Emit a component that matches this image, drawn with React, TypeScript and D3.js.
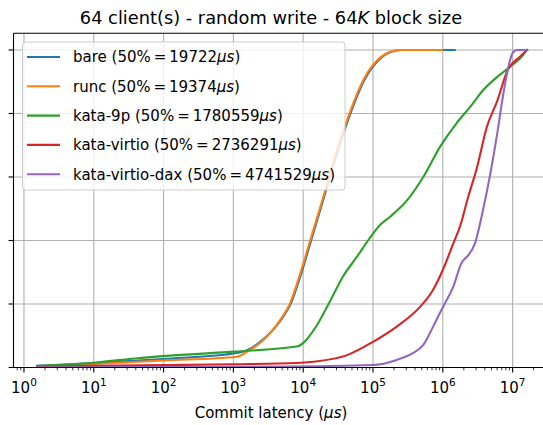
import React from "react";
import * as d3 from "d3";

// Commit-latency CDFs, latency in µs and cumulative fraction of commits.
const bareLatency = [1.55, 10, 100, 1000, 1600, 2400, 4800, 6700, 9200, 13000, 19500, 29000, 44000, 75000, 120000, 180000, 255000, 1480000];
const bareFraction = [0.005, 0.014, 0.027, 0.044, 0.055, 0.08, 0.15, 0.203, 0.29, 0.4, 0.53, 0.66, 0.78, 0.905, 0.968, 0.994, 1.0, 1.0];

const runcLatency = [1.55, 10, 100, 1120, 1580, 2400, 4700, 6500, 8900, 12600, 19000, 28200, 42700, 72400, 115000, 174000, 245000, 977000];
const runcFraction = [0.004, 0.011, 0.022, 0.034, 0.05, 0.077, 0.15, 0.203, 0.29, 0.4, 0.53, 0.66, 0.78, 0.905, 0.968, 0.994, 1.0, 1.0];

const kata9pLatency = [1.55, 10, 46, 1000, 8100, 15800, 24000, 37000, 59000, 85000, 126000, 174000, 309000, 525000, 912000, 1580000, 2450000, 3800000, 6000000, 9100000, 14100000, 15800000];
const kata9pFraction = [0.005, 0.015, 0.03, 0.05, 0.066, 0.134, 0.207, 0.286, 0.349, 0.4, 0.449, 0.474, 0.527, 0.6, 0.695, 0.77, 0.82, 0.874, 0.915, 0.946, 0.984, 1.0];

const virtioLatency = [1.55, 10, 1000, 8000, 13800, 42700, 100000, 219000, 468000, 724000, 1000000, 1410000, 1800000, 2240000, 3090000, 4270000, 6030000, 8510000, 12600000, 16200000];
const virtioFraction = [0.002, 0.005, 0.01, 0.014, 0.018, 0.039, 0.081, 0.129, 0.19, 0.244, 0.307, 0.39, 0.45, 0.527, 0.63, 0.757, 0.84, 0.937, 0.978, 1.0];

const daxLatency = [1.55, 1000, 100000, 219000, 372000, 525000, 724000, 1000000, 1410000, 1860000, 2240000, 2880000, 3800000, 4790000, 6030000, 7240000, 8510000, 10000000, 11500000, 15800000];
const daxFraction = [0.001, 0.002, 0.008, 0.024, 0.045, 0.071, 0.128, 0.19, 0.254, 0.33, 0.35, 0.39, 0.5, 0.61, 0.738, 0.852, 0.937, 0.99, 1.0, 1.0];

const seriesNames = ["bare", "runc", "kata-9p", "kata-virtio", "kata-virtio-dax"];
const medians = [19722, 19374, 1780559, 2736291, 4741529];
const seriesColors = ["#1f77b4", "#ff7f0e", "#2ca02c", "#d62728", "#9467bd"];
const seriesLatency = [bareLatency, runcLatency, kata9pLatency, virtioLatency, daxLatency];
const seriesFraction = [bareFraction, runcFraction, kata9pFraction, virtioFraction, daxFraction];

const xTickExponents = [0, 1, 2, 3, 4, 5, 6, 7];
const yTicks = [0, 0.2, 0.4, 0.6, 0.8, 1.0];

const W = 543;
const H = 425;
const plot = { left: 13.5, right: 551, top: 33.3, bottom: 367.5 };
const FONT = "'DejaVu Sans', sans-serif";
const BASE = 15;

export default function App() {
  const x = d3.scaleLog().domain([Math.pow(10, -0.15), Math.pow(10, 7.55)]).range([plot.left, plot.right]);
  const y = d3.scaleLinear().domain([0, 1.0526]).range([plot.bottom, plot.top]);

  const line = d3
    .line<[number, number]>()
    .x((d) => x(d[0]))
    .y((d) => y(d[1]))
    .curve(d3.curveMonotoneX);

  const minorTicks: number[] = [];
  for (let e = -1; e <= 7; e++) {
    for (let m = 2; m <= 9; m++) {
      const v = m * Math.pow(10, e);
      const px = x(v);
      if (px >= plot.left && px <= plot.right) minorTicks.push(v);
    }
  }

  const centerX = 271;
  const legend = { x: 22.5, y: 42, w: 322.5, h: 148, rowGap: 29.3, firstRow: 57 };

  return (
    <svg width={W} height={H} style={{ position: "absolute", left: 0, top: 0, background: "#fff" }} fontFamily={FONT}>
      <defs>
        <clipPath id="plotArea">
          <rect x={plot.left} y={plot.top} width={plot.right - plot.left} height={plot.bottom - plot.top} />
        </clipPath>
      </defs>
      <rect x={0} y={0} width={W} height={H} fill="#fff" />

      {/* grid */}
      <g stroke="#b0b0b0" strokeWidth={1.1}>
        {xTickExponents.map((e) => (
          <line key={"gx" + e} x1={x(Math.pow(10, e))} x2={x(Math.pow(10, e))} y1={plot.top} y2={plot.bottom} />
        ))}
        {yTicks.map((t) => (
          <line key={"gy" + t} x1={plot.left} x2={plot.right} y1={y(t)} y2={y(t)} />
        ))}
      </g>

      {/* CDF curves */}
      <g clipPath="url(#plotArea)" fill="none" strokeWidth={2.1} strokeLinejoin="round" strokeLinecap="square">
        {seriesNames.map((name, i) => {
          const pts = seriesLatency[i].map((v, j) => [v, seriesFraction[i][j]] as [number, number]);
          return <path key={name} d={line(pts) || ""} stroke={seriesColors[i]} />;
        })}
      </g>

      {/* spines */}
      <g stroke="#000" strokeWidth={1.1} fill="none">
        <line x1={plot.left} x2={plot.left} y1={plot.top} y2={plot.bottom} />
        <line x1={plot.left} x2={plot.right} y1={plot.bottom} y2={plot.bottom} />
        <line x1={plot.left} x2={plot.right} y1={plot.top} y2={plot.top} />
      </g>

      {/* x ticks */}
      <g stroke="#000" strokeWidth={1.1}>
        {xTickExponents.map((e) => (
          <line key={"tx" + e} x1={x(Math.pow(10, e))} x2={x(Math.pow(10, e))} y1={plot.bottom} y2={plot.bottom + 4.9} />
        ))}
      </g>
      <g stroke="#000" strokeWidth={0.8}>
        {minorTicks.map((v) => (
          <line key={"mx" + v} x1={x(v)} x2={x(v)} y1={plot.bottom} y2={plot.bottom + 2.8} />
        ))}
      </g>
      <g fontSize={BASE} fill="#000">
        {xTickExponents.map((e) => (
          <text key={"lx" + e} x={x(Math.pow(10, e))} y={392.5} textAnchor="middle">
            10
            <tspan fontSize={BASE * 0.7} dy={-6.5}>
              {e}
            </tspan>
          </text>
        ))}
      </g>

      {/* y ticks */}
      <g stroke="#000" strokeWidth={1.1}>
        {yTicks.map((t) => (
          <line key={"ty" + t} x1={plot.left - 4.9} x2={plot.left} y1={y(t)} y2={y(t)} />
        ))}
      </g>

      {/* axis label */}
      <text x={centerX} y={418} textAnchor="middle" fontSize={BASE} fill="#000">
        Commit latency (<tspan fontStyle="italic">μs</tspan>)
      </text>

      {/* title */}
      <text x={centerX} y={24} textAnchor="middle" fontSize={17.8} fill="#000">
        64 client(s) - random write - 64<tspan fontStyle="italic">K</tspan> block size
      </text>

      {/* legend */}
      <g>
        <rect x={legend.x} y={legend.y} width={legend.w} height={legend.h} rx={3} ry={3} fill="#fff" fillOpacity={0.8} stroke="#cccccc" strokeWidth={1} />
        {seriesNames.map((name, i) => {
          const ry = legend.firstRow + i * legend.rowGap;
          return (
            <g key={"lg" + name}>
              <line x1={27} x2={60} y1={ry} y2={ry} stroke={seriesColors[i]} strokeWidth={2.1} />
              <text x={73} y={ry + 5.3} fontSize={BASE} fill="#000">
                {name} (50%{"\u2009"}={"\u2009"}{medians[i]}
                <tspan fontStyle="italic">μs</tspan>)
              </text>
            </g>
          );
        })}
      </g>
    </svg>
  );
}
